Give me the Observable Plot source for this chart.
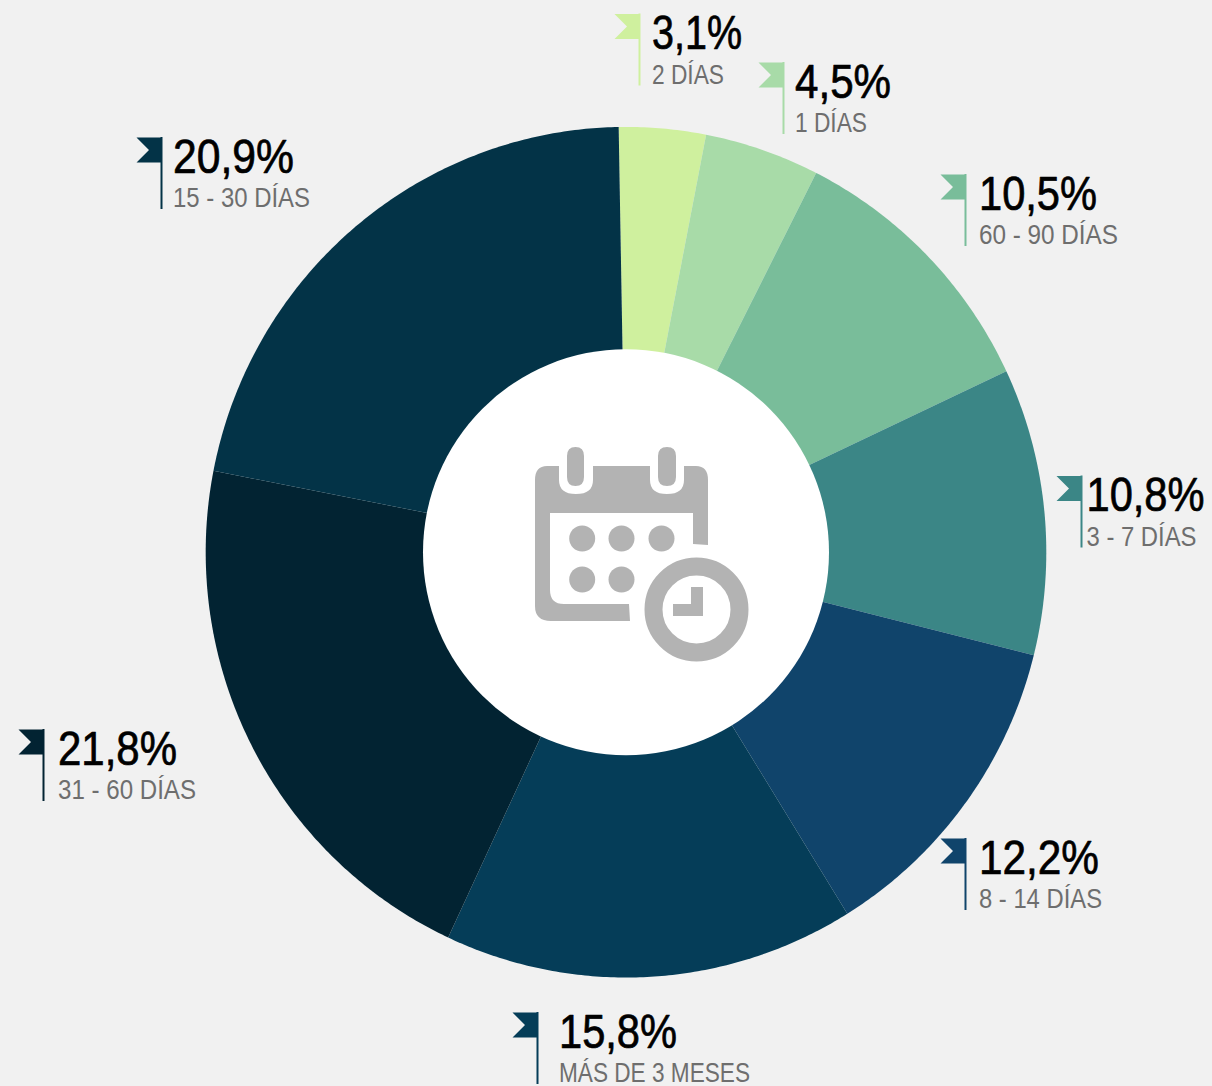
<!DOCTYPE html>
<html>
<head>
<meta charset="utf-8">
<script src="https://cdn.jsdelivr.net/npm/d3@7"></script>
<script src="https://cdn.jsdelivr.net/npm/@observablehq/plot@0.6"></script>
<style>
html,body{margin:0;padding:0;background:#f1f1f1;overflow:hidden}
svg{display:block}
</style>
</head>
<body>
<div id="chart"></div>
<script>
// Data, clockwise from the top
const labels = ["3,1%", "4,5%", "10,5%", "10,8%", "12,2%", "15,8%", "21,8%", "20,9%"];
const categories = ["2 DÍAS", "1 DÍAS", "60 - 90 DÍAS", "3 - 7 DÍAS", "8 - 14 DÍAS", "MÁS DE 3 MESES", "31 - 60 DÍAS", "15 - 30 DÍAS"];
// Share of the ring as actually drawn in the picture (differs a little from the printed labels)
const drawnShares = [3.33, 4.42, 10.53, 10.89, 12.28, 15.78, 21.11, 21.66];
const colors = ["#cff09e", "#a8dba8", "#79bd9a", "#3b8686", "#10446b", "#053d58", "#022332", "#033347"];

// Layout of the callouts: flag pole x, text x, percent baseline y, text widths
const poleX = [639, 783, 965, 1081, 965, 537, 43, 161];
const textX = [651.5, 794.5, 978.5, 1086, 978.5, 558.5, 57.5, 172.5];
const baseY = [50.5, 99, 211, 512.5, 875, 1049, 766, 174];
const labelWidth = [90, 96, 118, 118, 120, 118, 119, 121];
const categoryWidth = [72, 72, 139, 110, 123, 191, 138, 137];

const W = 1212, H = 1086;
const cx = 625.5, cy = 551.7, rx = 420.3, ry = 425.3, hole = 203;
const startDeg = -1;
const total = d3.sum(drawnShares);

// Ring sectors as closed outlines, from the values
const sectorPts = [];
let acc = 0;
drawnShares.forEach((p, i) => {
  const a0 = startDeg + acc / total * 360;
  acc += p;
  const a1 = startDeg + acc / total * 360;
  const n = Math.ceil((a1 - a0) * 2);
  const at = (t) => (a0 + (a1 - a0) * t) * Math.PI / 180;
  for (let k = 0; k <= n; k++) {
    const a = at(k / n);
    sectorPts.push({i, x: cx + rx * Math.sin(a), y: cy - ry * Math.cos(a)});
  }
  sectorPts.push({i, x: cx, y: cy});
});

const callouts = labels.map((label, i) => ({
  i, label, cat: categories[i], color: colors[i],
  pole: poleX[i], tx: textX[i], base: baseY[i]
}));

// Flags: swallow-tail pennant attached to the pole
const flagPts = callouts.flatMap((c) => {
  const top = c.base - 37;
  return [
    {i: c.i, x: c.pole, y: top},
    {i: c.i, x: c.pole - 25, y: top},
    {i: c.i, x: c.pole - 12.5, y: top + 12.5},
    {i: c.i, x: c.pole - 25, y: top + 25},
    {i: c.i, x: c.pole, y: top + 25}
  ];
});

// Calendar-and-clock pictogram in the centre
const iconGrey = "#b3b3b3";
const calendarDots = [[581.7, 538], [621, 538], [661, 538], [581.7, 579], [621, 579]];

function calendarBody(index, {x, y}) {
  const X = (v) => x(v), Y = (v) => y(v);
  const d = `M${X(547)},${Y(466)} H${X(559)} V${Y(480)} Q${X(559)},${Y(494)} ${X(576)},${Y(494)} Q${X(593)},${Y(494)} ${X(593)},${Y(480)} V${Y(466)}
   H${X(650)} V${Y(480)} Q${X(650)},${Y(494)} ${X(667)},${Y(494)} Q${X(684)},${Y(494)} ${X(684)},${Y(480)} V${Y(466)}
   H${X(696)} Q${X(708)},${Y(466)} ${X(708)},${Y(480)} V${Y(545)} L${X(693)},${Y(544)} V${Y(513)} H${X(550)} V${Y(590)}
   Q${X(550)},${Y(604)} ${X(564)},${Y(604)} H${X(629)} L${X(630)},${Y(621)} H${X(551)} Q${X(535)},${Y(621)} ${X(535)},${Y(606)} V${Y(480)} Q${X(535)},${Y(466)} ${X(547)},${Y(466)} Z
   M${X(575.5)},${Y(447)} Q${X(584)},${Y(447)} ${X(584)},${Y(456)} V${Y(477)} Q${X(584)},${Y(486)} ${X(575.5)},${Y(486)} Q${X(567)},${Y(486)} ${X(567)},${Y(477)} V${Y(456)} Q${X(567)},${Y(447)} ${X(575.5)},${Y(447)} Z
   M${X(667)},${Y(447)} Q${X(676)},${Y(447)} ${X(676)},${Y(456)} V${Y(477)} Q${X(676)},${Y(486)} ${X(667)},${Y(486)} Q${X(658)},${Y(486)} ${X(658)},${Y(477)} V${Y(456)} Q${X(658)},${Y(447)} ${X(667)},${Y(447)} Z
   M${X(691)},${Y(587)} H${X(703)} V${Y(616)} H${X(673)} V${Y(604)} H${X(691)} Z`;
  return d3.create("svg:path").attr("d", d).attr("fill", iconGrey).node();
}

const font = "'Liberation Sans', Arial, sans-serif";

const plot = Plot.plot({
  width: W, height: H,
  margin: 0,
  x: {domain: [0, W], range: [0, W], axis: null},
  y: {domain: [0, H], range: [0, H], axis: null},
  color: {type: "identity"},
  style: {background: "transparent", fontFamily: font},
  marks: [
    Plot.line(sectorPts, {x: "x", y: "y", z: "i", fill: (d) => colors[d.i], stroke: "none", curve: "linear-closed"}),
    Plot.dot([{x: cx, y: cy}], {x: "x", y: "y", r: hole, fill: "#ffffff", stroke: "none"}),
    calendarBody,
    Plot.dot(calendarDots, {x: (d) => d[0], y: (d) => d[1], r: 13, fill: iconGrey, stroke: "none"}),
    Plot.dot([{x: 696, y: 609}], {x: "x", y: "y", r: 43, fill: "none", stroke: iconGrey, strokeWidth: 18}),
    Plot.line(flagPts, {x: "x", y: "y", z: "i", fill: (d) => colors[d.i], stroke: "none", curve: "linear-closed"}),
    Plot.ruleX(callouts, {x: "pole", y1: (d) => d.base - 37, y2: (d) => d.base + 35, stroke: "color", strokeWidth: 2}),
    Plot.text(callouts, {x: "tx", y: "base", dy: -2, text: "label", fill: "#000000", stroke: "#000000", strokeWidth: 0.7, fontSize: 48, textAnchor: "start", lineAnchor: "bottom", className: "pct"}),
    Plot.text(callouts, {x: "tx", y: (d) => d.base + 34, dy: -1.5, text: "cat", fill: "#6e6e6e", fontSize: 28, textAnchor: "start", lineAnchor: "bottom", className: "cat"})
  ]
});
// The reference type is condensed: fit each text to the width it has there
d3.select(plot).selectAll("g.pct text").each(function (d, k) {
  d3.select(this).attr("textLength", labelWidth[k]).attr("lengthAdjust", "spacingAndGlyphs");
});
d3.select(plot).selectAll("g.cat text").each(function (d, k) {
  d3.select(this).attr("textLength", categoryWidth[k]).attr("lengthAdjust", "spacingAndGlyphs");
});
document.getElementById("chart").append(plot);
</script>
</body>
</html>
